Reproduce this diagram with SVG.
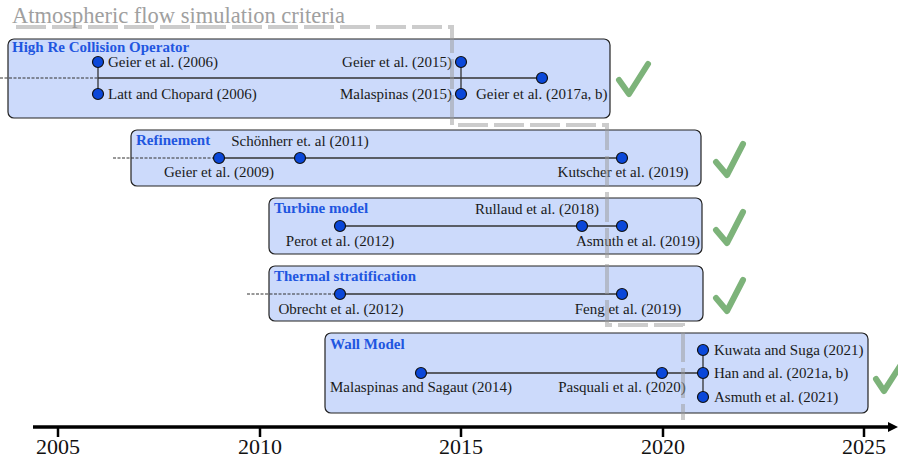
<svg xmlns="http://www.w3.org/2000/svg" width="898" height="461" viewBox="0 0 898 461">
<style>
text{font-family:"Liberation Serif","Times New Roman",serif;}
.box{fill:#ccdafb;stroke:#222;stroke-width:1.2;}
.ttl{font-size:15px;font-weight:bold;fill:#1f56e0;}
.lbl{font-size:15px;fill:#1a1a1a;}
.tl{stroke:#333;stroke-width:1.3;fill:none;}
.dsh{stroke:#333;stroke-width:1;stroke-dasharray:3 1.5;fill:none;}
.dot{fill:#0a47d9;stroke:#111;stroke-width:1.2;}
.chk{fill:none;stroke:#7db37a;stroke-width:6;stroke-linecap:round;stroke-linejoin:round;}
.yr{font-size:22px;fill:#111;text-anchor:middle;}
.tick{stroke:#000;stroke-width:2.5;}
</style>
<defs>
<marker id="ah" markerWidth="10" markerHeight="10" refX="0" refY="5" orient="auto" markerUnits="userSpaceOnUse">
<path d="M0,0 L10,5 L0,10 z" fill="#000"/>
</marker>
</defs>

<text x="12" y="23" style="font-size:22.5px;fill:#a0a0a0">Atmospheric flow simulation criteria</text>

<g id="node-highre">
<rect class="box" x="8" y="39" width="602" height="79" rx="6"/>
<text class="ttl" x="12" y="52">High Re Collision Operator</text>
<text class="lbl" x="108" y="67">Geier et al. (2006)</text>
<text class="lbl" x="108" y="99">Latt and Chopard (2006)</text>
<text class="lbl" x="452" y="67" text-anchor="end">Geier et al. (2015)</text>
<text class="lbl" x="452" y="99" text-anchor="end">Malaspinas (2015)</text>
<text class="lbl" x="476" y="99">Geier et al. (2017a, b)</text>
</g>

<g id="node-refinement">
<rect class="box" x="131" y="130" width="570" height="56" rx="6"/>
<text class="ttl" x="136" y="145">Refinement</text>
<text class="lbl" x="300" y="146" text-anchor="middle">Schönherr et. al (2011)</text>
<text class="lbl" x="219" y="177" text-anchor="middle">Geier et al. (2009)</text>
<text class="lbl" x="623" y="177" text-anchor="middle">Kutscher et al. (2019)</text>
</g>

<g id="node-turbine">
<rect class="box" x="269" y="198" width="433" height="56" rx="6"/>
<text class="ttl" x="274" y="213">Turbine model</text>
<text class="lbl" x="537" y="214" text-anchor="middle">Rullaud et al. (2018)</text>
<text class="lbl" x="340" y="246" text-anchor="middle">Perot et al. (2012)</text>
<text class="lbl" x="638" y="246" text-anchor="middle">Asmuth et al. (2019)</text>
</g>

<g id="node-thermal">
<rect class="box" x="269" y="266" width="434" height="55" rx="6"/>
<text class="ttl" x="274" y="281">Thermal stratification</text>
<text class="lbl" x="341" y="314" text-anchor="middle">Obrecht et al. (2012)</text>
<text class="lbl" x="628" y="314" text-anchor="middle">Feng et al. (2019)</text>
</g>

<g id="node-wall">
<rect class="box" x="325" y="333" width="543" height="80" rx="6"/>
<text class="ttl" x="330" y="349">Wall Model</text>
<text class="lbl" x="421" y="392" text-anchor="middle">Malaspinas and Sagaut (2014)</text>
<text class="lbl" x="622" y="392" text-anchor="middle">Pasquali et al. (2020)</text>
<text class="lbl" x="714" y="355">Kuwata and Suga (2021)</text>
<text class="lbl" x="714" y="378">Han and al. (2021a, b)</text>
<text class="lbl" x="714" y="402">Asmuth et al. (2021)</text>
</g>

<g id="connectors">
<path class="dsh" d="M0,78 H98"/>
<path class="tl" d="M98,78 H542 M98,62 V94 M461,62 V94"/>
<path class="dsh" d="M113,158 H219"/>
<path class="tl" d="M219,158 H622"/>
<path class="tl" d="M340,226 H622"/>
<path class="dsh" d="M247,294 H340"/>
<path class="tl" d="M340,294 H622"/>
<path class="tl" d="M421,373 H703 M703,350 V397"/>
</g>

<g id="dots">
<circle class="dot" cx="98" cy="62" r="5.5"/>
<circle class="dot" cx="98" cy="94" r="5.5"/>
<circle class="dot" cx="461" cy="62" r="5.5"/>
<circle class="dot" cx="461" cy="94" r="5.5"/>
<circle class="dot" cx="542" cy="78" r="5.5"/>
<circle class="dot" cx="219" cy="158" r="5.5"/>
<circle class="dot" cx="300" cy="158" r="5.5"/>
<circle class="dot" cx="622" cy="158" r="5.5"/>
<circle class="dot" cx="340" cy="226" r="5.5"/>
<circle class="dot" cx="582" cy="226" r="5.5"/>
<circle class="dot" cx="622" cy="226" r="5.5"/>
<circle class="dot" cx="340" cy="294" r="5.5"/>
<circle class="dot" cx="622" cy="294" r="5.5"/>
<circle class="dot" cx="421" cy="373" r="5.5"/>
<circle class="dot" cx="662" cy="373" r="5.5"/>
<circle class="dot" cx="703" cy="350" r="5.5"/>
<circle class="dot" cx="703" cy="373" r="5.5"/>
<circle class="dot" cx="703" cy="397" r="5.5"/>
</g>

<g id="criteria-outline">
<path d="M16,27 H452 V125 H607 V325 H683 V420" fill="none" stroke="#999" stroke-opacity="0.5" stroke-width="4" stroke-dasharray="30 6"/>
</g>

<g id="checks">
<path class="chk" d="M619,80 L629,94 L648,64"/>
<path class="chk" d="M716,162 L727,175 L743,144"/>
<path class="chk" d="M716,230 L727,243 L743,212"/>
<path class="chk" d="M716,298 L727,311 L743,280"/>
<path class="chk" d="M876,379 L884,391 L904,360"/>
</g>

<g id="axis">
<line x1="33" y1="427" x2="888" y2="427" stroke="#000" stroke-width="3.5" marker-end="url(#ah)"/>
<line class="tick" x1="58" y1="427" x2="58" y2="437"/>
<line class="tick" x1="260" y1="427" x2="260" y2="437"/>
<line class="tick" x1="461" y1="427" x2="461" y2="437"/>
<line class="tick" x1="663" y1="427" x2="663" y2="437"/>
<line class="tick" x1="864" y1="427" x2="864" y2="437"/>
<text class="yr" x="58" y="454">2005</text>
<text class="yr" x="260" y="454">2010</text>
<text class="yr" x="461" y="454">2015</text>
<text class="yr" x="663" y="454">2020</text>
<text class="yr" x="864" y="454">2025</text>
</g>
</svg>
